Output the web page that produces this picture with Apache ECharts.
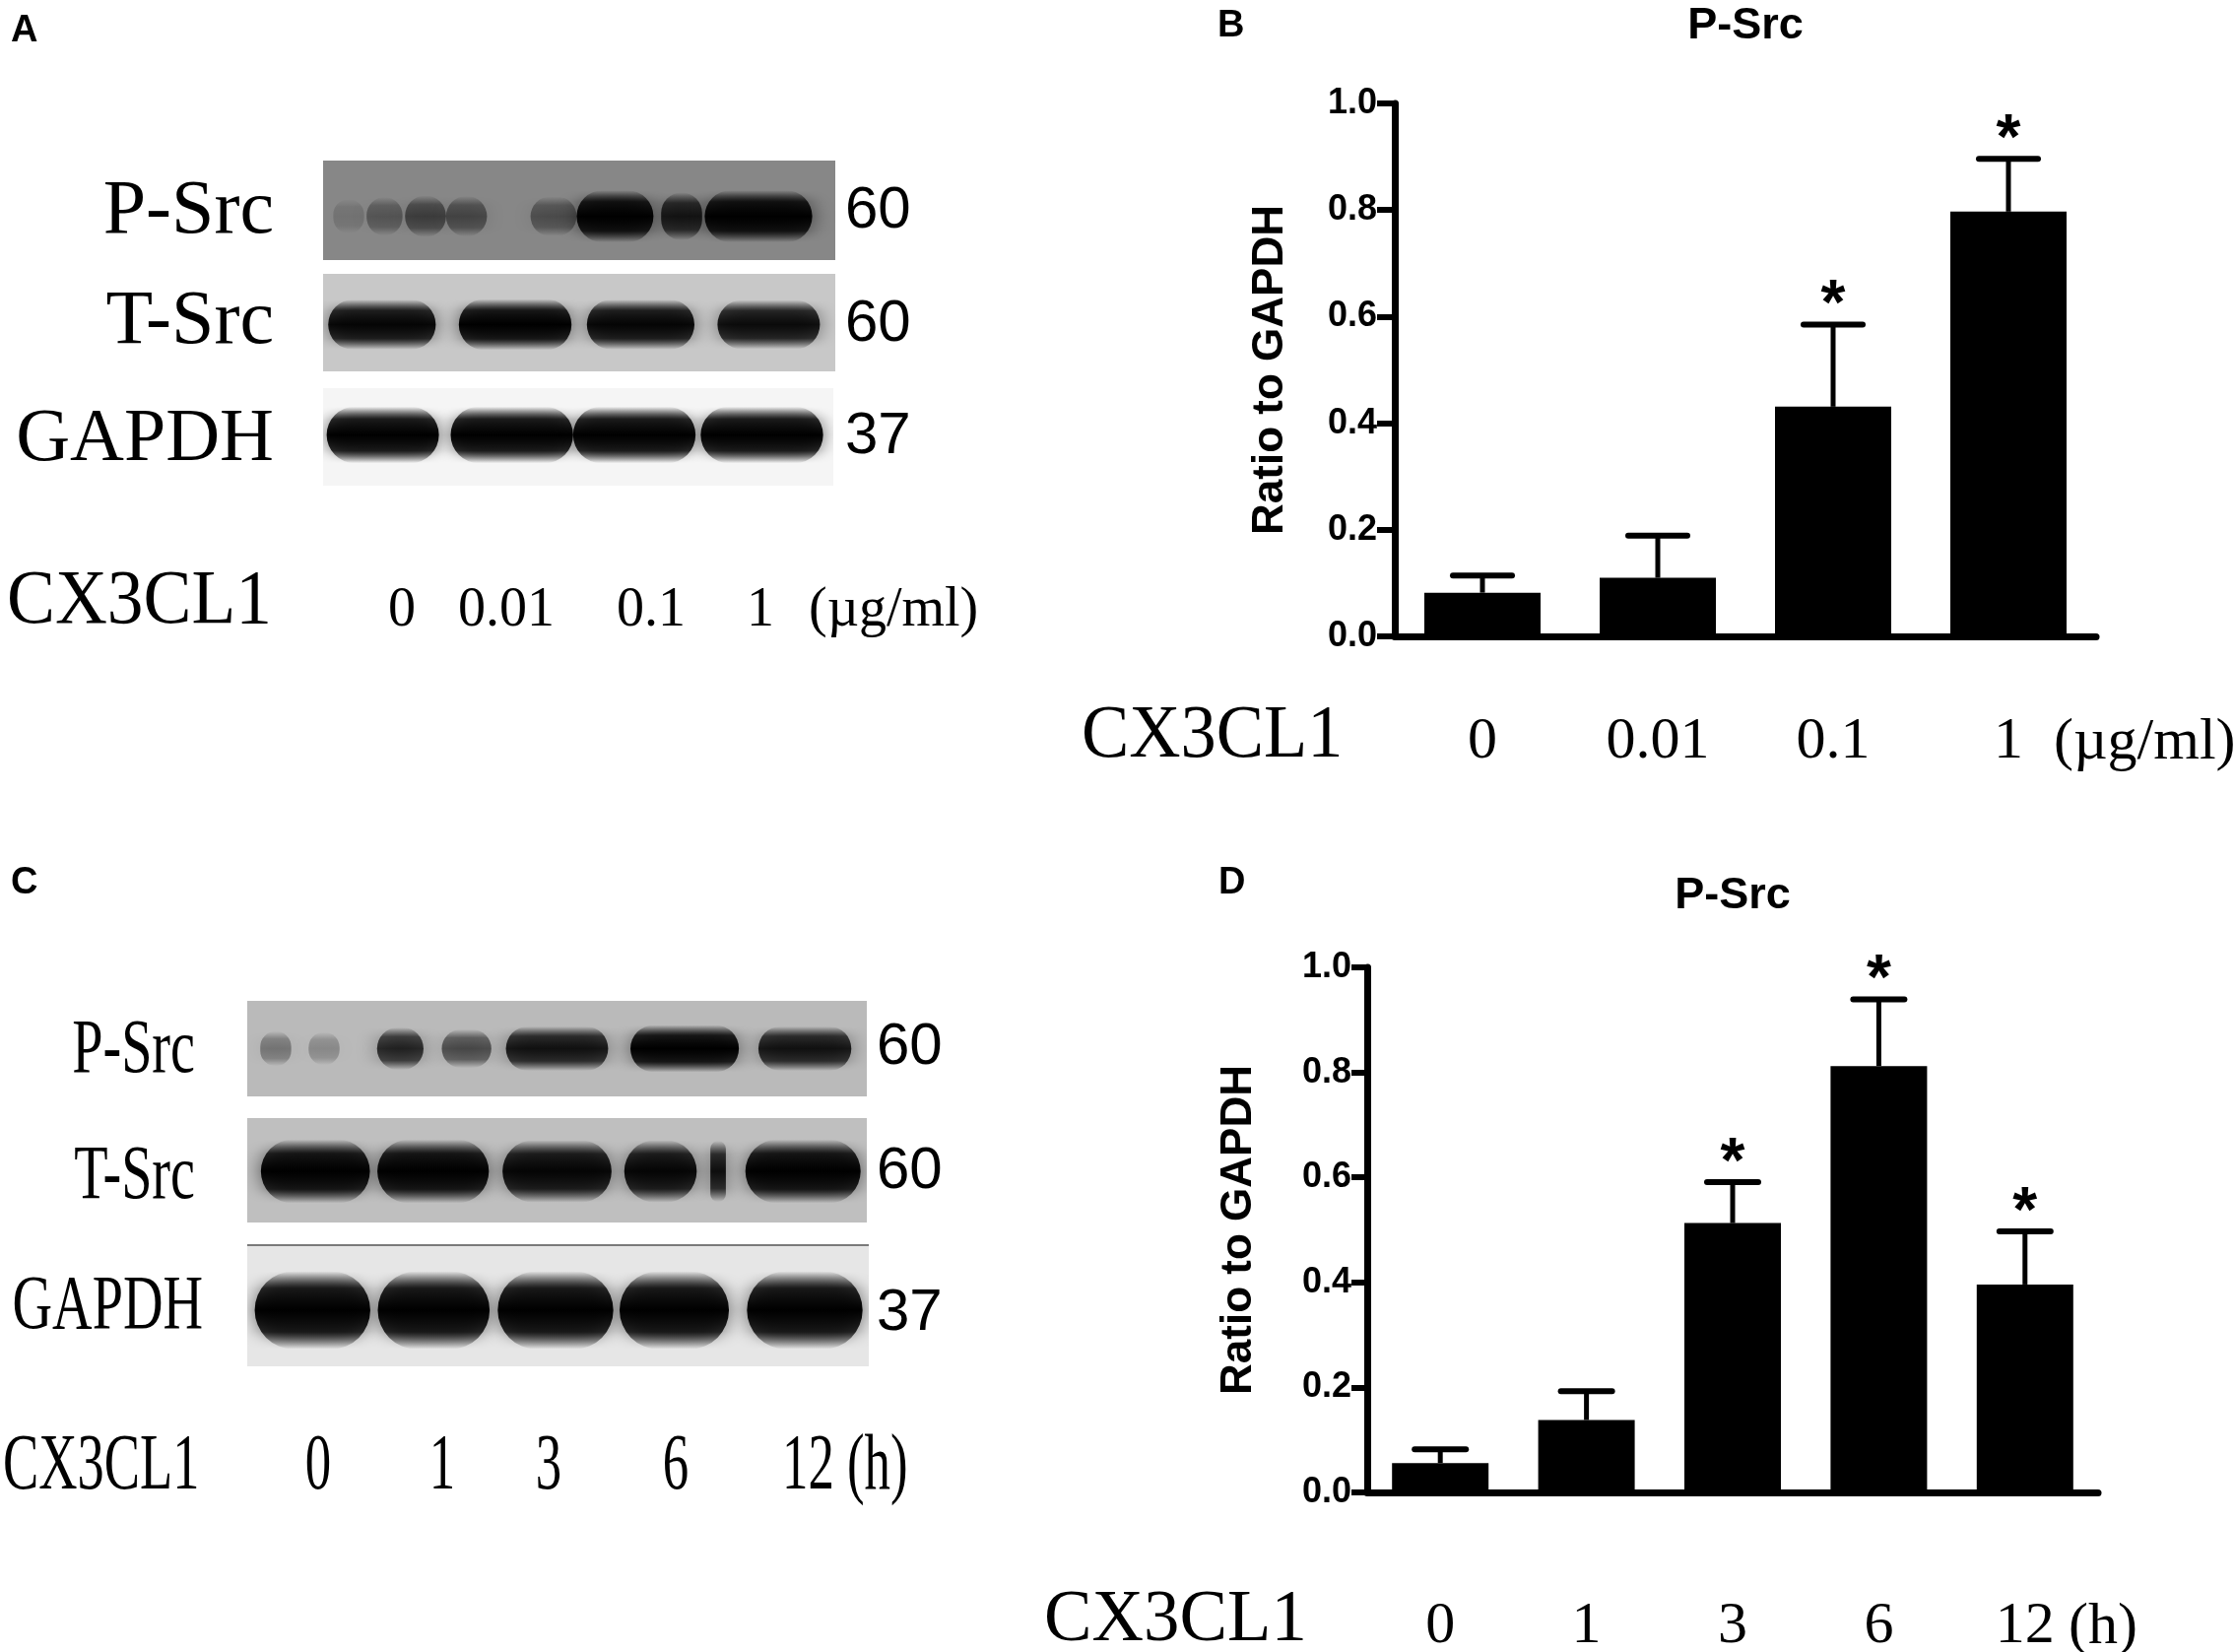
<!DOCTYPE html>
<html>
<head>
<meta charset="utf-8">
<title>CX3CL1 P-Src</title>
<script src="https://cdn.jsdelivr.net/npm/echarts@6/dist/echarts.min.js"></script>
<style>
  html, body { margin: 0; padding: 0; background: #fff; }
  #main { width: 2269px; height: 1677px; }
</style>
</head>
<body>
<div id="main"></div>
<script>
// Panel B: dose response
const doseLabels = ['0', '0.01', '0.1', '1'];
const doseMean = [0.082, 0.110, 0.431, 0.797];
const doseSem = [0.032, 0.079, 0.154, 0.099];
const doseSig = ['', '', '*', '*'];

// Panel D: time course
const timeLabels = ['0', '1', '3', '6', '12'];
const timeMean = [0.056, 0.138, 0.513, 0.812, 0.396];
const timeSem = [0.026, 0.055, 0.078, 0.127, 0.101];
const timeSig = ['', '', '*', '*', '*'];

// Western blot bands: [lane centre (% of strip), band width (%), darkness 0-1]
const aPSrc = [[5, 6, 0.15], [12, 7, 0.35], [20, 8, 0.5], [28, 8, 0.45], [45, 9, 0.4], [57, 15, 1.0], [70, 8, 0.8], [85, 21, 1.0]];
const aTSrc = [[11.5, 21, 0.95], [37.5, 22, 1.0], [62, 21, 0.95], [87, 20, 0.9]];
const aGapdh = [[11.7, 22, 1.0], [37, 24, 1.0], [61, 24, 1.0], [86, 24, 1.0]];
const cPSrc = [[4.6, 5, 0.35], [12.4, 5, 0.25], [24.7, 7.5, 0.75], [35.4, 8, 0.55], [50, 16.5, 0.85], [70.6, 17.5, 1.0], [90, 15, 0.85]];
const cTSrc = [[11, 17.6, 1.0], [30, 18, 1.0], [50, 17.6, 0.95], [66.7, 11.7, 0.95], [76, 2.5, 0.9], [89.7, 18.6, 1.0]];
const cGapdh = [[10.5, 18.6, 1.0], [30, 18, 1.0], [49.6, 18.6, 1.0], [68.7, 17.6, 1.0], [89.7, 18.6, 1.0]];

const blotRows = ['P-Src', 'T-Src', 'GAPDH'];
const kdaLabels = ['60', '60', '37'];

const SERIF = "'Liberation Serif', 'Times New Roman', serif";
const SANS = "'Liberation Sans', Arial, sans-serif";

let chartDom = document.getElementById('main');
let myChart = echarts.init(chartDom);

// plain text helper for the graphic layer
function txt(text, x, y, size, o) {
  o = o || {};
  const align = o.align || 'left';
  return {
    type: 'text', x: x, y: y, scaleX: o.sx || 1, silent: true,
    style: {
      text: text, fill: '#000',
      font: (o.bold ? 'bold ' : '') + size + 'px ' + (o.family || SERIF),
      align: align, textAlign: align, verticalAlign: 'middle', textVerticalAlign: 'middle'
    }
  };
}

function barGrid(left, top, width, height) {
  return { left: left, top: top, width: width, height: height, containLabel: false, outerBoundsMode: 'none' };
}

function blotGrid(left, top, width, height, bg) {
  return {
    left: left, top: top, width: width, height: height, show: true,
    backgroundColor: bg, borderWidth: 0, containLabel: false, outerBoundsMode: 'none'
  };
}

function catAxis(gi, labels, margin) {
  return {
    type: 'category', gridIndex: gi, data: labels, boundaryGap: true,
    axisLine: { lineStyle: { color: '#000', width: 7 } },
    axisTick: { alignWithLabel: true, length: 22, lineStyle: { color: '#000', width: 6 } },
    axisLabel: { interval: 0, margin: margin, fontFamily: SERIF, fontSize: 60, color: '#000' },
    splitLine: { show: false }
  };
}

function valAxis(gi, tick, margin, gap) {
  return {
    type: 'value', gridIndex: gi, min: 0, max: 1, interval: 0.2,
    name: 'Ratio to GAPDH', nameLocation: 'middle', nameRotate: 90, nameGap: gap,
    nameTextStyle: { fontFamily: SANS, fontWeight: 'bold', fontSize: 44, color: '#000' },
    axisLine: { show: true, lineStyle: { color: '#000', width: 7 } },
    axisTick: { show: true, length: tick, lineStyle: { color: '#000', width: 6 } },
    axisLabel: {
      margin: margin, fontFamily: SANS, fontWeight: 'bold', fontSize: 36, color: '#000',
      formatter: v => v.toFixed(1)
    },
    splitLine: { show: false }
  };
}

function errSeries(gi, means, sems, sigs, capHalf) {
  return {
    type: 'custom', xAxisIndex: gi, yAxisIndex: gi, z: 5, silent: true,
    data: means.map((m, i) => [i, m, m + sems[i]]),
    renderItem: function (params, api) {
      const base = api.coord([api.value(0), api.value(1)]);
      const top = api.coord([api.value(0), api.value(2)]);
      const children = [
        { type: 'line', shape: { x1: base[0], y1: base[1], x2: top[0], y2: top[1] }, style: { stroke: '#000', lineWidth: 5 } },
        { type: 'line', shape: { x1: top[0] - capHalf, y1: top[1], x2: top[0] + capHalf, y2: top[1] }, style: { stroke: '#000', lineWidth: 6, lineCap: 'round' } }
      ];
      const s = sigs[params.dataIndex];
      if (s) {
        children.push({
          type: 'text', x: top[0], y: top[1] - 18,
          style: { text: s, fill: '#000', font: 'bold 64px ' + SANS, align: 'center', textAlign: 'center', verticalAlign: 'middle', textVerticalAlign: 'middle' }
        });
      }
      return { type: 'group', children: children };
    }
  };
}

const ink = a => 'rgba(0,0,0,' + a.toFixed(3) + ')';

// one strip of a blot, bands as soft blurred rounded rects
function blotSeries(gi, bands, rowY, rowH, blur) {
  return {
    type: 'custom', xAxisIndex: gi, yAxisIndex: gi, clip: true, silent: true,
    data: bands,
    renderItem: function (params, api) {
      const d = api.value(2);
      const c = api.coord([api.value(0), rowY]);
      const w = api.size([api.value(1), 0])[0];
      const h = api.size([0, rowH])[1] * (0.6 + 0.4 * d) * 1.45;
      const fill = new echarts.graphic.LinearGradient(0, 0, 0, 1, [
        { offset: 0, color: ink(0) },
        { offset: 0.22, color: ink(d * 0.8) },
        { offset: 0.5, color: ink(d) },
        { offset: 0.78, color: ink(d * 0.8) },
        { offset: 1, color: ink(0) }
      ]);
      return {
        type: 'rect',
        shape: { x: c[0] - w / 2, y: c[1] - h / 2, width: w, height: h, r: h / 2 },
        style: { fill: fill, shadowBlur: blur, shadowColor: ink(d * 0.6) }
      };
    }
  };
}

const blotX = gi => ({ type: 'value', gridIndex: gi, min: 0, max: 100, show: false });
const blotY = gi => ({ type: 'value', gridIndex: gi, min: 0, max: 1, inverse: true, show: false });

const graphics = [
  // panel letters
  txt('A', 11, 32, 38, { bold: true, family: SANS }),
  txt('B', 1236, 27, 38, { bold: true, family: SANS }),
  txt('C', 11, 897, 38, { bold: true, family: SANS }),
  txt('D', 1237, 897, 38, { bold: true, family: SANS }),
  // chart titles
  txt('P-Src', 1772, 27, 45, { bold: true, family: SANS, align: 'center' }),
  txt('P-Src', 1759, 910, 45, { bold: true, family: SANS, align: 'center' }),
  // panel A texts
  txt(blotRows[0], 278, 216, 78, { align: 'right' }),
  txt(blotRows[1], 278, 328, 78, { align: 'right' }),
  txt(blotRows[2], 278, 447, 76, { align: 'right' }),
  txt(kdaLabels[0], 858, 214, 60, { family: SANS }),
  txt(kdaLabels[1], 858, 329, 60, { family: SANS }),
  txt(kdaLabels[2], 858, 443, 60, { family: SANS }),
  txt('CX3CL1', 7, 612, 78, { sx: 0.94 }),
  txt(doseLabels[0], 408, 620, 56, { align: 'center' }),
  txt(doseLabels[1], 514, 620, 56, { align: 'center' }),
  txt(doseLabels[2], 661, 620, 56, { align: 'center' }),
  txt(doseLabels[3], 772, 620, 56, { align: 'center' }),
  txt('(\u00b5g/ml)', 821, 620, 56),
  // panel C texts
  txt(blotRows[0], 198, 1068, 78, { align: 'right', sx: 0.72 }),
  txt(blotRows[1], 198, 1196, 78, { align: 'right', sx: 0.72 }),
  txt(blotRows[2], 206, 1328, 78, { align: 'right', sx: 0.72 }),
  txt(kdaLabels[0], 890, 1063, 60, { family: SANS }),
  txt(kdaLabels[1], 890, 1189, 60, { family: SANS }),
  txt(kdaLabels[2], 890, 1333, 60, { family: SANS }),
  txt('CX3CL1', 3, 1490, 80, { sx: 0.68 }),
  txt(timeLabels[0], 323, 1490, 80, { align: 'center', sx: 0.66 }),
  txt(timeLabels[1], 449, 1490, 80, { align: 'center', sx: 0.66 }),
  txt(timeLabels[2], 557, 1490, 80, { align: 'center', sx: 0.66 }),
  txt(timeLabels[3], 686, 1490, 80, { align: 'center', sx: 0.66 }),
  txt(timeLabels[4] + ' (h)', 794, 1490, 80, { sx: 0.66 }),
  // panel B / D axis captions
  txt('CX3CL1', 1098, 748, 77, { sx: 0.94 }),
  txt('(\u00b5g/ml)', 2085, 754, 60),
  txt('CX3CL1', 1060, 1645, 75, { sx: 0.97 }),
  txt('(h)', 2100, 1652, 60),
  // thin edge on top of the C GAPDH strip
  { type: 'rect', silent: true, shape: { x: 251, y: 1263, width: 631, height: 2 }, style: { fill: '#7a7a7a' } }
];

let option = {
  backgroundColor: '#fff',
  animation: false,
  grid: [
    barGrid(1416, 105, 712, 541),            // 0: B
    barGrid(1388, 982, 742, 533),            // 1: D
    blotGrid(328, 163, 520, 101, '#878787'), // 2: A P-Src
    blotGrid(328, 278, 520, 99, '#c8c8c8'),  // 3: A T-Src
    blotGrid(328, 394, 518, 99, '#f5f5f5'),  // 4: A GAPDH
    blotGrid(251, 1016, 629, 97, '#bababa'), // 5: C P-Src
    blotGrid(251, 1135, 629, 106, '#bfbfbf'),// 6: C T-Src
    blotGrid(251, 1263, 631, 124, '#e6e6e6') // 7: C GAPDH
  ],
  xAxis: [
    catAxis(0, doseLabels, 77),
    catAxis(1, timeLabels, 106),
    blotX(2), blotX(3), blotX(4), blotX(5), blotX(6), blotX(7)
  ],
  yAxis: [
    valAxis(0, 18, 18, 104),
    valAxis(1, 16, 16, 108),
    blotY(2), blotY(3), blotY(4), blotY(5), blotY(6), blotY(7)
  ],
  series: [
    { type: 'bar', xAxisIndex: 0, yAxisIndex: 0, data: doseMean, barWidth: 118, itemStyle: { color: '#000' }, silent: true },
    errSeries(0, doseMean, doseSem, doseSig, 30),
    { type: 'bar', xAxisIndex: 1, yAxisIndex: 1, data: timeMean, barWidth: 98, itemStyle: { color: '#000' }, silent: true },
    errSeries(1, timeMean, timeSem, timeSig, 26),
    blotSeries(2, aPSrc, 0.56, 0.36, 22),
    blotSeries(3, aTSrc, 0.52, 0.36, 20),
    blotSeries(4, aGapdh, 0.48, 0.40, 18),
    blotSeries(5, cPSrc, 0.50, 0.34, 22),
    blotSeries(6, cTSrc, 0.51, 0.42, 20),
    blotSeries(7, cGapdh, 0.54, 0.44, 20)
  ],
  graphic: graphics
};

myChart.setOption(option);
</script>
</body>
</html>
